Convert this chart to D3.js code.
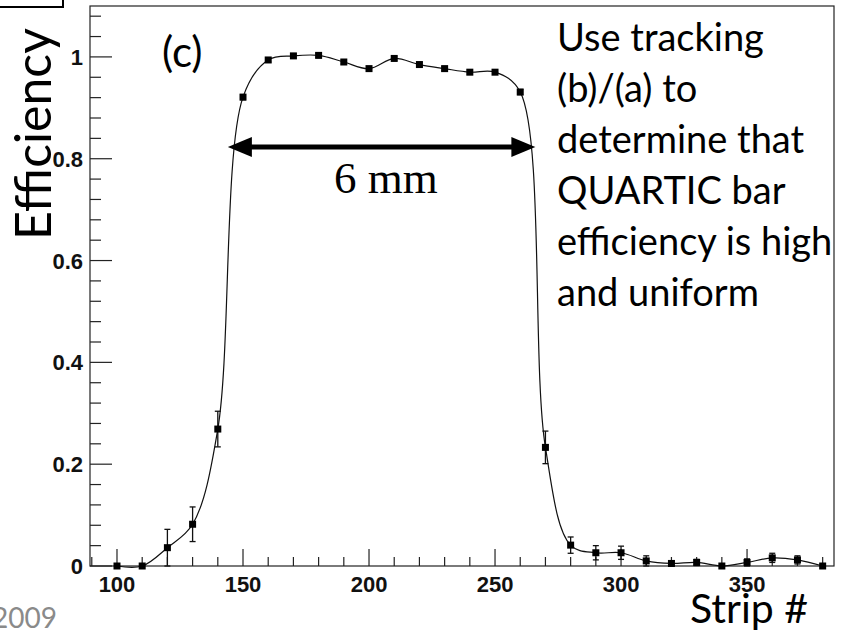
<!DOCTYPE html>
<html>
<head>
<meta charset="utf-8">
<script src="https://cdn.jsdelivr.net/npm/d3@7"></script>
<style>
  html, body { margin: 0; padding: 0; background: #fff; }
  svg { display: block; }
</style>
</head>
<body>
<svg id="chart" width="846" height="635"></svg>
<script>
// ---- data ----
const strips = [100,110,120,130,140,150,160,170,180,190,200,210,220,230,240,250,260,270,280,290,300,310,320,330,340,350,360,370,380];
const efficiency = [0,0,0.036,0.082,0.269,0.921,0.994,1.002,1.003,0.990,0.977,0.997,0.985,0.977,0.970,0.970,0.931,0.233,0.041,0.026,0.026,0.010,0.005,0.007,0,0.007,0.016,0.012,0];
const errors = [0,0,0.036,0.034,0.035,0.005,0.004,0.004,0.004,0.004,0.004,0.004,0.004,0.004,0.004,0.004,0.005,0.032,0.016,0.014,0.013,0.010,0.005,0.006,0,0.007,0.009,0.008,0];
const xTicks = [100,150,200,250,300,350];
const yTicks = [0,0.2,0.4,0.6,0.8,1];
const yTickLabels = ["0","0.2","0.4","0.6","0.8","1"];
const noteLines = ["Use tracking","(b)/(a) to","determine that","QUARTIC bar","efficiency is high","and uniform"];
const widthArrow = [144, 266]; // strip range spanned by the arrow
const arrowLevel = 0.823;

// ---- layout ----
const svg = d3.select("#chart");
const L = 90, R = 834, T = 6, B = 566;
const x = d3.scaleLinear().domain([89.29, 384.5]).range([L, R]);
const y = d3.scaleLinear().domain([0, 1.1]).range([B, T]);
const calibri = "Lato, 'Open Sans', sans-serif";

// frame
svg.append("rect").attr("x", L).attr("y", T).attr("width", R - L).attr("height", B - T)
  .attr("fill", "none").attr("stroke", "#222").attr("stroke-width", 1.2);

// x axis ticks (inside, pointing up)
const xMinor = d3.range(90, 385, 10);
const g = svg.append("g");
xMinor.forEach(v => {
  const major = v % 50 === 0;
  g.append("line").attr("x1", x(v)).attr("x2", x(v)).attr("y1", B).attr("y2", B - (major ? 17 : 9))
    .attr("stroke", "#222").attr("stroke-width", 1.2);
});
svg.append("g").selectAll("text").data(xTicks).join("text")
  .attr("x", d => x(d)).attr("y", B + 26).attr("text-anchor", "middle")
  .attr("font-family", "'Liberation Sans', Arial, sans-serif").attr("font-weight", "bold")
  .attr("font-size", 22).attr("fill", "#111").text(d => d);

// y axis ticks (inside, pointing right)
d3.range(0, 1.1001, 0.04).forEach((v, i) => {
  const major = i % 5 === 0;
  g.append("line").attr("x1", L).attr("x2", L + (major ? 22 : 11)).attr("y1", y(v)).attr("y2", y(v))
    .attr("stroke", "#222").attr("stroke-width", 1.2);
});
svg.append("g").selectAll("text").data(yTicks).join("text")
  .attr("x", L - 7).attr("y", d => y(d) + 8).attr("text-anchor", "end")
  .attr("font-family", "'Liberation Sans', Arial, sans-serif").attr("font-weight", "bold")
  .attr("font-size", 22).attr("fill", "#111").text((d, i) => yTickLabels[i]);

// data
const pts = strips.map((s, i) => ({ s, v: efficiency[i], e: errors[i] }));
const line = d3.line().x(d => x(d.s)).y(d => y(d.v)).curve(d3.curveCatmullRom.alpha(0.5));
svg.append("path").datum(pts).attr("d", line).attr("fill", "none").attr("stroke", "#111").attr("stroke-width", 1.2);

const eb = svg.append("g").attr("stroke", "#111").attr("stroke-width", 1.3);
pts.filter(d => d.e > 0).forEach(d => {
  const lo = Math.max(0, d.v - d.e), hi = d.v + d.e;
  eb.append("line").attr("x1", x(d.s)).attr("x2", x(d.s)).attr("y1", y(lo)).attr("y2", y(hi));
  [lo, hi].forEach(val => {
    eb.append("line").attr("x1", x(d.s) - 3).attr("x2", x(d.s) + 3).attr("y1", y(val)).attr("y2", y(val));
  });
});
svg.append("g").selectAll("rect").data(pts).join("rect")
  .attr("x", d => x(d.s) - 3.5).attr("y", d => y(d.v) - 3.5).attr("width", 7).attr("height", 7).attr("fill", "#000");

// arrow
const ax1 = x(widthArrow[0]), ax2 = x(widthArrow[1]), ay = y(arrowLevel);
svg.append("line").attr("x1", ax1 + 18).attr("x2", ax2 - 18).attr("y1", ay).attr("y2", ay)
  .attr("stroke", "#000").attr("stroke-width", 5);
svg.append("path").attr("d", `M${ax1},${ay} L${ax1 + 24},${ay - 10} L${ax1 + 24},${ay + 10} Z`).attr("fill", "#000");
svg.append("path").attr("d", `M${ax2},${ay} L${ax2 - 24},${ay - 10} L${ax2 - 24},${ay + 10} Z`).attr("fill", "#000");
svg.append("text").attr("x", x(206.7)).attr("y", y(0.733)).attr("text-anchor", "middle")
  .attr("font-family", "'Liberation Serif', 'Times New Roman', serif").attr("font-size", 45).text("6 mm");

// labels
svg.append("text").attr("x", 162).attr("y", 67).attr("font-family", calibri).attr("font-size", 42).text("(c)");
svg.append("text").attr("transform", "translate(51,134) rotate(-90)").attr("text-anchor", "middle")
  .attr("font-family", calibri).attr("font-size", 50).text("Efficiency");
svg.append("text").attr("x", 808).attr("y", 623).attr("text-anchor", "end")
  .attr("font-family", calibri).attr("font-size", 41).text("Strip #");
svg.append("text").attr("x", 57).attr("y", 628).attr("text-anchor", "end")
  .attr("font-family", calibri).attr("font-size", 28).attr("fill", "#8a8a8a").text("2009");
svg.append("g").selectAll("text").data(noteLines).join("text")
  .attr("x", 557).attr("y", (d, i) => 51 + i * 51)
  .attr("font-family", calibri).attr("font-size", 38).attr("fill", "#000").text(d => d);

// corner box
svg.append("path").attr("d", "M0,7 H63 V0").attr("fill", "none").attr("stroke", "#000").attr("stroke-width", 2);
</script>
</body>
</html>
